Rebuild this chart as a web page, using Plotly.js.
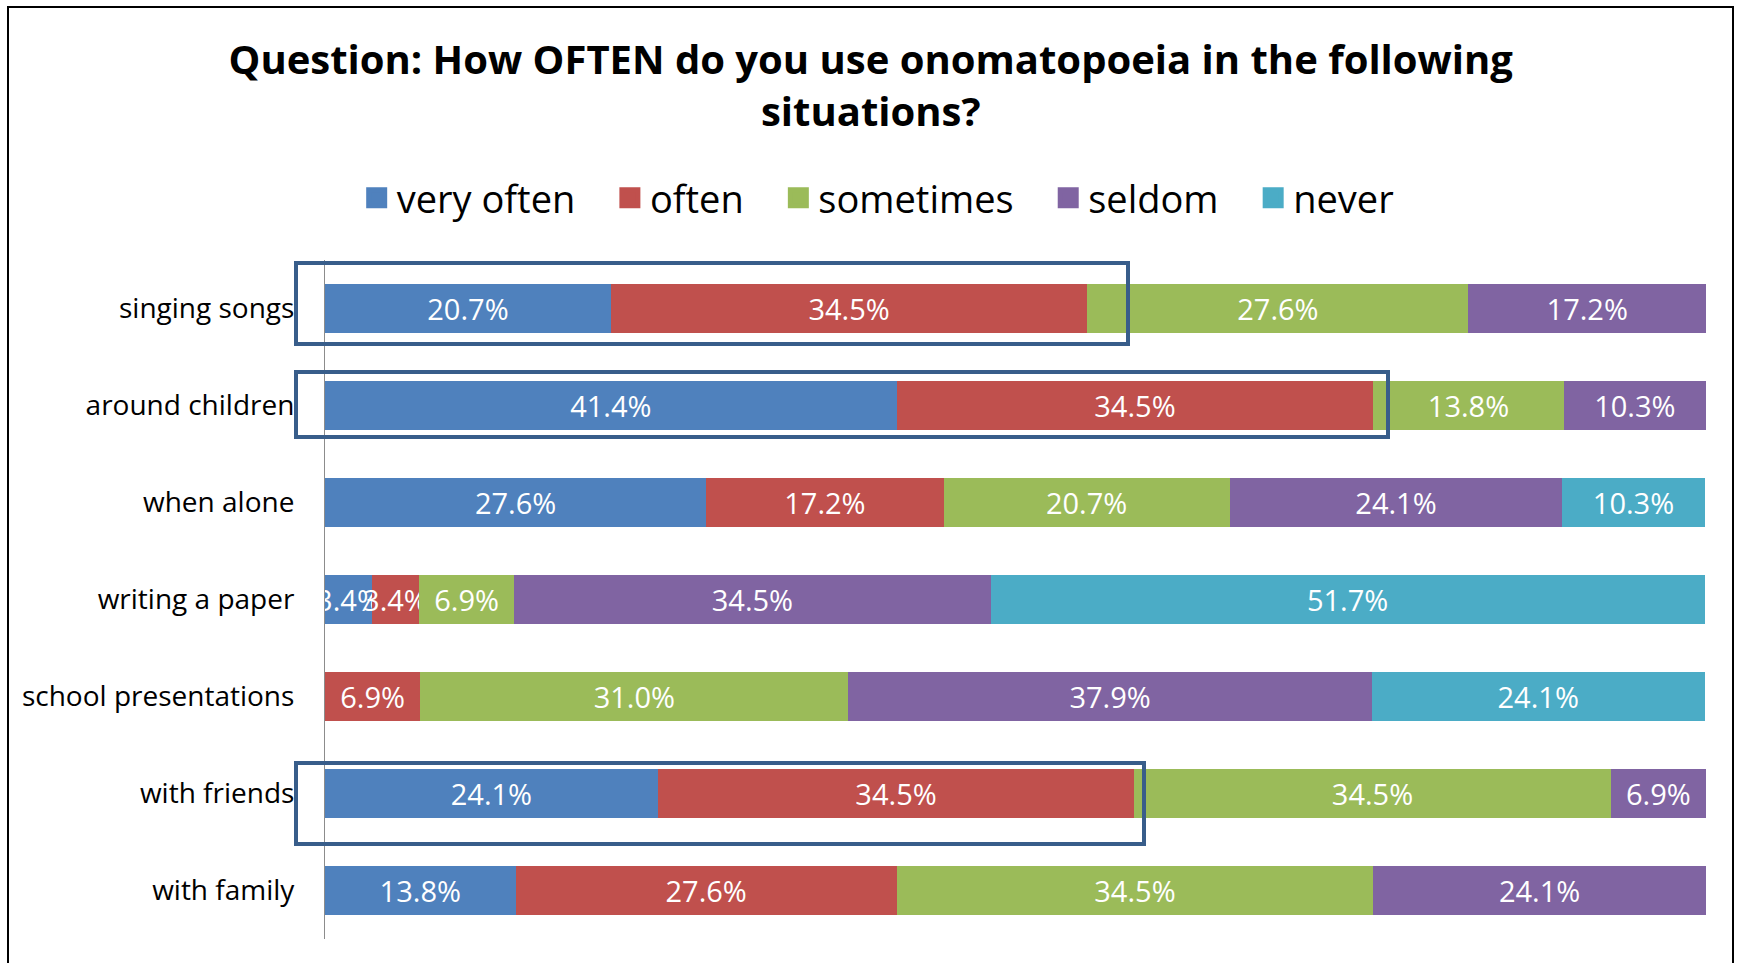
<!DOCTYPE html>
<html>
<head>
<meta charset="utf-8">
<script src="https://cdn.plot.ly/plotly-3.0.1.min.js"></script>
<style>
  html, body { margin: 0; padding: 0; background: #ffffff; }
  #chart { width: 1738px; height: 963px; }
</style>
</head>
<body>
<div id="chart"></div>
<script>
// ---- data ----
const categories = ['singing songs', 'around children', 'when alone', 'writing a paper',
                    'school presentations', 'with friends', 'with family'];
const seriesNames = ['very often', 'often', 'sometimes', 'seldom', 'never'];
const veryOften = [20.7, 41.4, 27.6, 3.4, 0, 24.1, 13.8];
const often     = [34.5, 34.5, 17.2, 3.4, 6.9, 34.5, 27.6];
const sometimes = [27.6, 13.8, 20.7, 6.9, 31.0, 34.5, 34.5];
const seldom    = [17.2, 10.3, 24.1, 34.5, 37.9, 6.9, 24.1];
const never     = [0, 0, 10.3, 51.7, 24.1, 0, 0];
const titleText = 'Question: How OFTEN do you use onomatopoeia in the following<br>situations?';

// ---- styling ----
const colors = ['#4F81BD', '#C0504D', '#9BBB59', '#8064A2', '#4BACC6'];
const FONT = 'Open Sans, Arial, sans-serif';
const allSeries = [veryOften, often, sometimes, seldom, never];

const barTraces = allSeries.map((vals, i) => ({
  type: 'bar',
  orientation: 'h',
  name: seriesNames[i],
  legendgroup: seriesNames[i],
  showlegend: false,
  y: categories,
  x: vals,
  text: vals.map(v => v > 0 ? v.toFixed(1) + '%' : ''),
  textposition: 'inside',
  insidetextanchor: 'middle',
  constraintext: 'none',
  textangle: 0,
  textfont: { family: FONT, size: 29, color: '#ffffff' },
  marker: { color: colors[i], line: { width: 0 } },
  hoverinfo: 'name+x'
}));

// legend entries (larger square keys, like the reference)
const PAD = '\u00A0\u00A0\u00A0';
const legendTraces = seriesNames.map((n, i) => ({
  type: 'scatter', mode: 'markers',
  name: i < seriesNames.length - 1 ? n + PAD : n,
  legendgroup: n,
  x: [null], y: [null],
  marker: { symbol: 'square', size: 16, color: colors[i], line: { color: colors[i], width: 5 } },
  hoverinfo: 'skip'
}));

// plot area geometry (pixels)
const L = 325, R = 1706, T = 260, B = 939, W = 1738, H = 963;
const px = x => (x - L) / (R - L);
const py = y => (B - y) / (B - T);

const boxLine = { color: '#385D8A', width: 4 };
const box = (x0, x1, y0, y1) => ({
  type: 'rect', xref: 'paper', yref: 'paper', layer: 'above',
  x0: px(x0), x1: px(x1), y0: py(y1), y1: py(y0), line: boxLine
});
const shapes = [
  // outer frame (left, top, right)
  { type: 'path', xref: 'paper', yref: 'paper', layer: 'above',
    path: `M ${px(8)},${py(975)} L ${px(8)},${py(7)} L ${px(1733)},${py(7)} L ${px(1733)},${py(975)}`,
    line: { color: '#000000', width: 2 } },
  // highlight boxes
  box(296, 1128, 263, 344),
  box(296, 1388, 372, 437),
  box(296, 1144, 763, 844)
];

const layout = {
  width: W, height: H,
  paper_bgcolor: '#ffffff', plot_bgcolor: '#ffffff',
  margin: { l: L, r: W - R, t: T, b: H - B, pad: 0 },
  barmode: 'stack',
  bargap: 0.5,
  font: { family: FONT, color: '#000000' },
  title: {
    text: titleText,
    font: { family: FONT, size: 40, color: '#000000', weight: 'bold' },
    x: 0.501, xref: 'container', xanchor: 'center',
    y: 1 - 74 / H, yref: 'container', yanchor: 'middle'
  },
  showlegend: true,
  legend: {
    orientation: 'h',
    x: 0.505, xref: 'container', xanchor: 'center',
    y: 1 - 198 / H, yref: 'container', yanchor: 'middle',
    font: { family: FONT, size: 38, color: '#000000' },
    traceorder: 'normal', itemclick: false
  },
  xaxis: {
    range: [0, 100], showgrid: false, zeroline: false, showticklabels: false,
    showline: false, ticks: '', fixedrange: true
  },
  yaxis: {
    autorange: 'reversed', showgrid: false, zeroline: false,
    showline: true, linecolor: '#8c8c8c', linewidth: 1, ticks: '',
    tickfont: { family: FONT, size: 28, color: '#000000' },
    ticklabelstandoff: 24, fixedrange: true
  },
  shapes: shapes
};

Plotly.newPlot('chart', barTraces.concat(legendTraces), layout, { displayModeBar: false, staticPlot: true });
</script>
</body>
</html>
